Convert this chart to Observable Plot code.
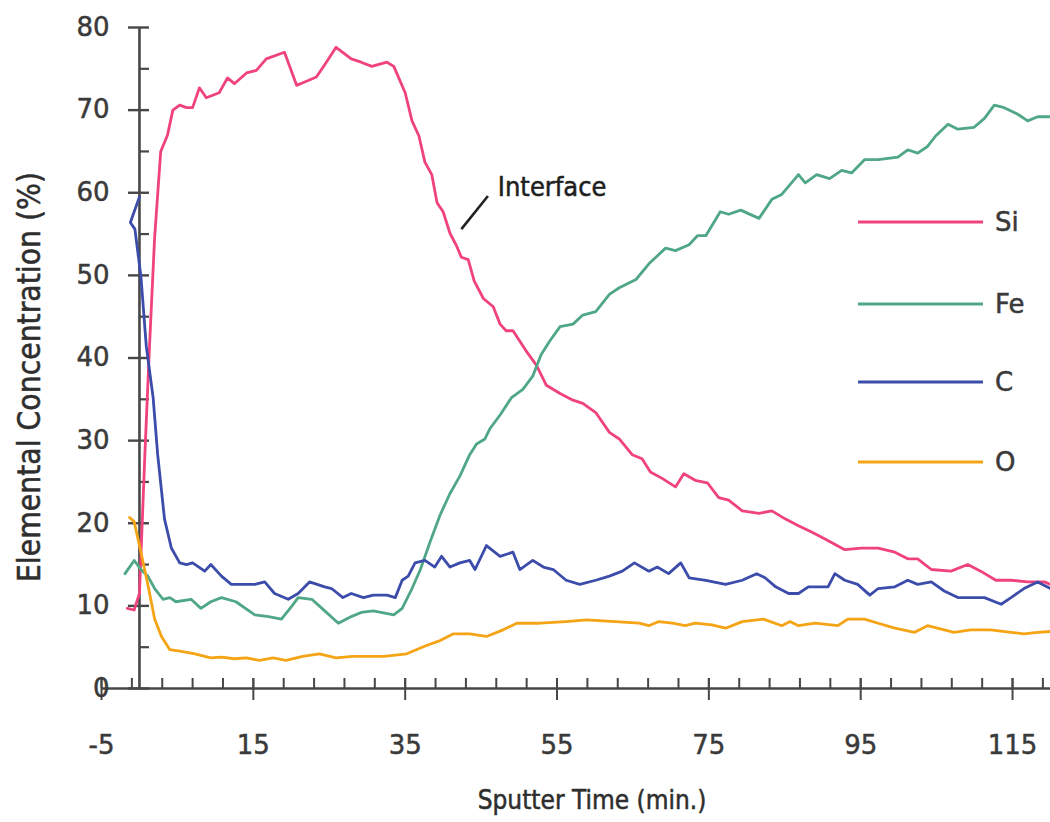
<!DOCTYPE html>
<html>
<head>
<meta charset="utf-8">
<script src="https://cdn.jsdelivr.net/npm/d3@7"></script>
<script src="https://cdn.jsdelivr.net/npm/@observablehq/plot@0.6"></script>
<style>
  html, body { margin: 0; padding: 0; background: #fff; }
  #wrap { position: relative; width: 1050px; height: 822px; }
  #legend { position: absolute; left: 858px; top: 0; }
</style>
</head>
<body>
<div id="wrap"><div id="chart"></div><svg id="legend" width="192" height="500"></svg></div>
<script>
// ---- data ----
const seriesNames = ["Si", "Fe", "C", "O"];
const seriesColors = ["#f0427c", "#4fa786", "#3c4caa", "#f4a414"];
const xTitle = "Sputter Time (min.)";
const yTitle = "Elemental Concentration (%)";
const xMajorTicks = [-5, 15, 35, 55, 75, 95, 115];
const xMinorTicks = d3.range(-5, 121, 4);
const yMajorTicks = [0, 10, 20, 30, 40, 50, 60, 70, 80];
const yMinorTicks = [5, 15, 25, 35, 45, 55, 65, 75];
const annotation = [{label: "Interface", x1: 42.4, y1: 55.6, x2: 45.9, y2: 59.6, tx: 47.2, ty: 60.6}];

const si = [[-1.6,9.7],[-0.7,9.5],[0,11.5],[0.7,28],[1.3,41],[2,54.6],[2.8,65],[3.7,67],[4.4,70],[5.3,70.6],[6.2,70.3],[7,70.3],[7.9,72.7],[8.8,71.5],[10.5,72.1],[11.6,73.9],[12.5,73.2],[14.1,74.5],[15.4,74.8],[16.7,76.2],[19.1,77],[20.7,73],[22,73.5],[23.3,74],[24.4,75.5],[25.9,77.6],[27.9,76.2],[29.2,75.8],[30.6,75.3],[32.6,75.8],[33.5,75.3],[35,72.1],[35.9,68.7],[36.8,66.9],[37.6,63.7],[38.5,62.2],[39.2,58.8],[40,57.7],[40.9,55.1],[41.8,53.5],[42.4,52.2],[43.3,51.9],[44.1,49.3],[45.3,47.2],[46.6,46.2],[47.5,44.1],[48.3,43.3],[49.2,43.3],[50.9,40.9],[52.3,39.1],[53.6,36.7],[55.4,35.7],[57.1,34.9],[58.4,34.5],[60.1,33.4],[61.9,31],[63.2,30.2],[64.9,28.3],[66.2,27.8],[67.3,26.2],[68.9,25.4],[70.6,24.4],[71.7,26],[73.2,25.2],[74.8,24.9],[76.3,23.1],[77.6,22.8],[79.4,21.5],[81.6,21.2],[83.3,21.5],[85.1,20.5],[86.8,19.7],[88.6,18.9],[90.3,18.1],[92.9,16.8],[95.1,17],[97.3,17],[99.5,16.5],[101.2,15.7],[102.5,15.7],[104.3,14.4],[106.9,14.2],[109.1,15],[110.8,14.2],[112.8,13.1],[114.8,13.1],[117,12.9],[119.2,12.9],[120,12.6]];

const fe = [[-1.9,13.9],[-0.7,15.5],[0.2,14.4],[1.1,13.6],[2,12.1],[3.1,10.8],[4,11],[4.8,10.5],[6.8,10.8],[8.1,9.7],[9.4,10.5],[10.8,11],[12.7,10.5],[15.2,8.9],[17,8.7],[18.7,8.4],[20.1,10],[20.9,11],[22.7,10.8],[24.4,9.4],[26.2,7.9],[27.9,8.7],[29.2,9.2],[30.8,9.4],[33.5,8.9],[34.6,9.7],[35.9,12.1],[37,14.4],[38.3,17.8],[39.6,21],[40.9,23.6],[42.2,25.7],[43.5,28.3],[44.4,29.6],[45.5,30.2],[46.2,31.5],[47.5,33.1],[49,35.2],[50.5,36.2],[51.8,37.8],[52.9,40.4],[54,42],[55.4,43.8],[57.1,44.1],[58.4,45.2],[60.1,45.6],[61.9,47.7],[63.2,48.5],[65.4,49.5],[67.1,51.4],[69.3,53.3],[70.6,53],[72.4,53.7],[73.5,54.8],[74.6,54.8],[76.5,57.7],[77.6,57.4],[79.2,57.9],[81.6,56.9],[83.3,59.2],[84.6,59.8],[86.8,62.2],[87.7,61.2],[89.2,62.2],[90.9,61.7],[92.5,62.7],[93.8,62.4],[95.5,64],[97.3,64],[99.9,64.3],[101.2,65.2],[102.5,64.8],[103.8,65.6],[104.9,66.9],[106.5,68.3],[107.8,67.7],[109.9,67.9],[111.3,69],[112.6,70.6],[113.9,70.3],[115.7,69.5],[117,68.7],[118.3,69.2],[120,69.2]];

const c = [[0,59.5],[-1.2,56.4],[-0.6,55.6],[0.2,49.8],[0.9,41.4],[1.8,35.2],[2.4,28.3],[3.3,20.5],[4.2,17],[5.3,15.2],[6.2,15],[7,15.2],[8.6,14.2],[9.4,15],[10.8,13.6],[12.1,12.6],[13.6,12.6],[15.2,12.6],[16.5,12.9],[17.8,11.5],[19.6,10.8],[20.9,11.5],[22.4,12.9],[24.4,12.3],[25.3,12.1],[26.8,11],[27.9,11.5],[29.5,11],[30.8,11.3],[32.6,11.3],[33.7,11],[34.6,13.1],[35.4,13.6],[36.3,15.2],[37.6,15.5],[38.9,14.7],[39.8,16],[40.9,14.7],[42.2,15.2],[43.5,15.5],[44.2,14.4],[45.7,17.3],[47.5,16],[49.2,16.5],[50.1,14.4],[51.8,15.5],[53.2,14.7],[54.5,14.4],[56.2,13.1],[58,12.6],[60.1,13.1],[61.9,13.6],[63.6,14.2],[65.2,15.2],[67.1,14.2],[68.2,14.7],[69.7,13.9],[71.3,15.2],[72.4,13.4],[74.6,13.1],[77.2,12.6],[79.4,13.1],[81.3,13.9],[82.4,13.4],[83.8,12.3],[85.5,11.5],[86.8,11.5],[88.1,12.3],[90.7,12.3],[91.6,13.9],[92.9,13.1],[94.6,12.6],[96.2,11.3],[97.3,12.1],[99.5,12.3],[101.2,13.1],[102.5,12.6],[104.3,12.9],[106,11.8],[107.8,11],[111.3,11],[113.5,10.2],[114.8,11],[116.5,12.1],[118.3,12.9],[120,12.1]];

const o = [[-1.3,20.7],[-0.7,20.2],[0,17.3],[1.1,12.6],[2,8.4],[2.9,6.3],[4,4.7],[5.5,4.5],[7.3,4.2],[9.4,3.7],[10.8,3.8],[12.5,3.6],[14.1,3.7],[15.8,3.4],[17.6,3.7],[19.3,3.4],[21.5,3.9],[23.7,4.2],[25.9,3.7],[28.1,3.9],[30,3.9],[32.2,3.9],[35.2,4.2],[37.8,5.2],[39.6,5.8],[41.3,6.6],[43.5,6.6],[45.7,6.3],[47.9,7.1],[49.7,7.9],[52.7,7.9],[56.2,8.1],[58.9,8.3],[62.7,8.1],[65.8,7.9],[67.1,7.6],[68.4,8.1],[70.2,7.9],[71.9,7.6],[73.2,7.9],[75.4,7.7],[77.2,7.3],[79.4,8.1],[82.2,8.4],[84.6,7.6],[85.7,8.1],[86.8,7.6],[89,7.9],[92,7.6],[93.3,8.4],[95.5,8.4],[97.3,7.9],[99.5,7.3],[102.1,6.8],[103.8,7.6],[107.3,6.8],[109.5,7.1],[112.1,7.1],[114.8,6.8],[116.5,6.6],[118.3,6.8],[120,6.9]];

// ---- build table ----
const seriesValues = [si, fe, c, o];
const rows = seriesValues.flatMap((arr, k) => arr.map(([x, y], i) => ({element: seriesNames[k], x, y, i})));

const axisColor = "#474747";
const textColor = "#3a3a3a";
const tickFont = "'DejaVu Sans', sans-serif";
const titleFont = "'DejaVu Sans Condensed', 'Liberation Sans Narrow', 'DejaVu Sans', sans-serif";

const chart = Plot.plot({
  width: 1050,
  height: 822,
  marginLeft: 101,
  marginRight: 0,
  marginTop: 27,
  marginBottom: 134,
  style: {background: "white", fontFamily: tickFont, color: textColor},
  x: {domain: [-5, 120], axis: null},
  y: {domain: [0, 80], axis: null},
  color: {domain: seriesNames, range: seriesColors},
  marks: [
    // axis lines
    Plot.ruleY([0], {stroke: axisColor, strokeWidth: 2.6}),
    Plot.ruleX([0], {stroke: axisColor, strokeWidth: 2.6}),
    // x ticks
    Plot.ruleX(xMinorTicks, {x: d => d, y1: 0, y2: 0, insetTop: -10, insetBottom: 0, stroke: axisColor, strokeWidth: 2}),
    Plot.ruleX(xMajorTicks, {x: d => d, y1: 0, y2: 0, insetTop: -10, insetBottom: -12, stroke: axisColor, strokeWidth: 2}),
    // y ticks (on the axis at x = 0)
    Plot.ruleY(yMajorTicks, {y: d => d, x1: 0, x2: 0, insetLeft: -11, insetRight: -10, stroke: axisColor, strokeWidth: 2.4}),
    Plot.ruleY(yMinorTicks, {y: d => d, x1: 0, x2: 0, insetLeft: 0, insetRight: -10, stroke: axisColor, strokeWidth: 2.2}),
    // tick labels
    Plot.text(yMajorTicks, {y: d => d, text: d => String(d), frameAnchor: "left", textAnchor: "end", dx: 8, fontSize: 26, fill: textColor, stroke: textColor, strokeWidth: 0.5}),
    Plot.text(xMajorTicks, {x: d => d, text: d => String(d), frameAnchor: "bottom", textAnchor: "middle", lineAnchor: "middle", dy: 57, fontSize: 26, fill: textColor, stroke: textColor, strokeWidth: 0.5}),
    // axis titles
    Plot.text([yTitle], {text: d => d, frameAnchor: "left", textAnchor: "middle", rotate: -90, dx: -71.5, dy: 19, fontSize: 31.5, fontFamily: titleFont, fill: "#2e2e2e", stroke: "#2e2e2e", strokeWidth: 0.5}),
    Plot.text([xTitle], {text: d => d, frameAnchor: "bottom", textAnchor: "middle", dx: 16, dy: 112, lineAnchor: "middle", fontSize: 26, fontFamily: titleFont, fill: "#2e2e2e", stroke: "#2e2e2e", strokeWidth: 0.5}),
    // series
    Plot.line(rows, {x: "x", y: "y", z: "element", stroke: "element", strokeWidth: 2.8, curve: "linear"}),
    // annotation
    Plot.link(annotation, {x1: "x1", y1: "y1", x2: "x2", y2: "y2", stroke: "#222", strokeWidth: 2.6}),
    Plot.text(annotation, {x: "tx", y: "ty", text: "label", textAnchor: "start", fontSize: 27, fontFamily: titleFont, fill: "#1e1e1e", stroke: "#1e1e1e", strokeWidth: 0.5})
  ]
});
document.getElementById("chart").appendChild(chart);

// ---- legend ----
const legendTop = [222, 304, 382, 462];
const lg = d3.select("#legend");
seriesNames.forEach((name, i) => {
  lg.append("line").attr("x1", 0).attr("x2", 125).attr("y1", legendTop[i]).attr("y2", legendTop[i])
    .attr("stroke", seriesColors[i]).attr("stroke-width", 3);
  lg.append("text").attr("x", 137).attr("y", legendTop[i]).attr("dy", "0.35em")
    .attr("font-family", tickFont).attr("font-size", 26).attr("fill", textColor)
    .attr("stroke", textColor).attr("stroke-width", 0.5).text(name);
});
</script>
</body>
</html>
